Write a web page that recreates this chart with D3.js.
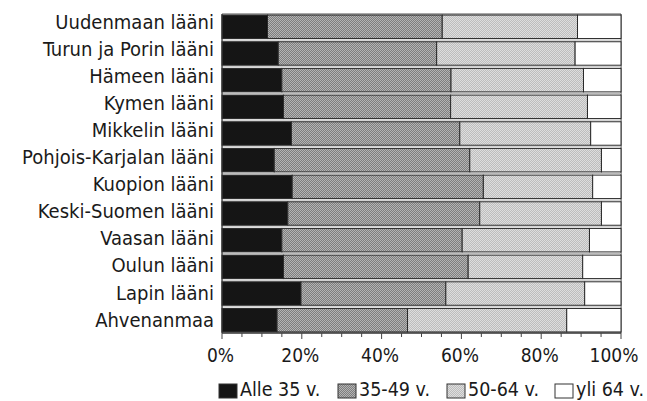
<!DOCTYPE html>
<html><head><meta charset="utf-8">
<script src="https://cdn.jsdelivr.net/npm/d3@7"></script>
<style>
html,body{margin:0;padding:0;background:#fff;}
svg{display:block;}
text{font-family:"DejaVu Sans Condensed","DejaVu Sans",sans-serif;font-stretch:condensed;fill:#1a1a1a;}
</style></head>
<body>
<script>
const categories = ["Uudenmaan lääni","Turun ja Porin lääni","Hämeen lääni","Kymen lääni","Mikkelin lääni","Pohjois-Karjalan lääni","Kuopion lääni","Keski-Suomen lääni","Vaasan lääni","Oulun lääni","Lapin lääni","Ahvenanmaa"];
const seriesNames = ["Alle 35 v.","35-49 v.","50-64 v.","yli 64 v."];
const alle35 = [11.4,14.1,15.0,15.4,17.4,13.1,17.6,16.5,15.0,15.4,19.8,13.8];
const v35_49 = [43.8,39.7,42.4,41.9,42.2,49.0,47.9,48.1,45.2,46.3,36.3,32.7];
const v50_64 = [33.9,34.7,33.2,34.3,32.8,33.0,27.4,30.5,31.9,28.7,34.8,39.9];
const yli64  = [10.9,11.5,9.4,8.4,7.6,4.9,7.1,4.9,7.9,9.6,9.1,13.6];
const tickValues = [0,20,40,60,80,100];
const tickLabels = ["0%","20%","40%","60%","80%","100%"];

const W=647,H=401;
const svg=d3.select("body").append("svg").attr("width",W).attr("height",H);
const defs=svg.append("defs");
function checker(id,a,b){
  const p=defs.append("pattern").attr("id",id).attr("width",2).attr("height",2).attr("patternUnits","userSpaceOnUse");
  p.append("rect").attr("width",2).attr("height",2).attr("fill",a);
  p.append("rect").attr("width",1).attr("height",1).attr("fill",b);
  p.append("rect").attr("x",1).attr("y",1).attr("width",1).attr("height",1).attr("fill",b);
}
checker("p1","#7e7e7e","#b4b4b4");
checker("p2","#bdbdbd","#dedede");
const fills=["#151515","url(#p1)","url(#p2)","#ffffff"];

const x=d3.scaleLinear().domain([0,100]).range([222,621]);
const y=d3.scaleBand().domain(categories).range([14,333]).paddingInner(0.12).paddingOuter(0.04);

const rows=categories.map((c,i)=>({cat:c,vals:[alle35[i],v35_49[i],v50_64[i],yli64[i]]}));
const stackData=rows.map(r=>{let acc=0;return r.vals.map((v,k)=>{const s={cat:r.cat,k,x0:acc,x1:acc+v};acc+=v;return s;});}).flat();

// frame
svg.append("line").attr("x1",x(0)).attr("x2",x(100)).attr("y1",14).attr("y2",14).attr("stroke","#555").attr("stroke-width",1.2);
svg.append("line").attr("x1",x(100)).attr("x2",x(100)).attr("y1",14).attr("y2",333).attr("stroke","#555").attr("stroke-width",1.2);

// gap lines between bars
svg.append("g").selectAll("line").data(categories.slice(1)).join("line")
 .attr("x1",x(0)).attr("x2",x(100))
 .attr("y1",d=>y(d)-y.step()*y.paddingInner()/2).attr("y2",d=>y(d)-y.step()*y.paddingInner()/2)
 .attr("stroke","#bbb").attr("stroke-width",1);

svg.append("g").selectAll("rect").data(stackData).join("rect")
 .attr("x",d=>x(d.x0)).attr("width",d=>x(d.x1)-x(d.x0))
 .attr("y",d=>y(d.cat)).attr("height",y.bandwidth())
 .attr("fill",d=>fills[d.k]).attr("stroke","#2a2a2a").attr("stroke-width",1);

// x axis
const ax=svg.append("g").attr("transform","translate(0,333)");
ax.append("line").attr("x1",x(0)).attr("x2",x(100)).attr("stroke","#333").attr("stroke-width",1.3);
ax.selectAll("line.t").data(d3.range(0,101,5)).join("line").attr("class","t")
 .attr("x1",d=>x(d)).attr("x2",d=>x(d)).attr("y1",0).attr("y2",d=>d%20===0?6:4).attr("stroke","#444");
ax.selectAll("text").data(tickValues).join("text")
 .attr("x",(d,i)=>x(d)-(i===tickValues.length-1?7:1.5)).attr("y",29)
 .attr("text-anchor","middle").attr("font-size",19).text((d,i)=>tickLabels[i]);

// y labels
svg.append("line").attr("x1",x(0)).attr("x2",x(0)).attr("y1",14).attr("y2",333).attr("stroke","#333").attr("stroke-width",1.3);
svg.append("g").selectAll("text").data(categories).join("text")
 .attr("x",214).attr("y",(d,i)=>y(d)+y.bandwidth()/2+2+i*0.4)
 .attr("text-anchor","end").attr("font-size",20).text(d=>d);

// legend
const legX=[219,338,447,555];
const lg=svg.append("g");
seriesNames.forEach((n,i)=>{
  lg.append("rect").attr("x",legX[i]).attr("y",384).attr("width",18).attr("height",14)
    .attr("fill",fills[i]).attr("stroke","#333").attr("stroke-width",1);
  lg.append("text").attr("x",legX[i]+21).attr("y",396).attr("font-size",19.5).text(n);
});
</script>
</body></html>
